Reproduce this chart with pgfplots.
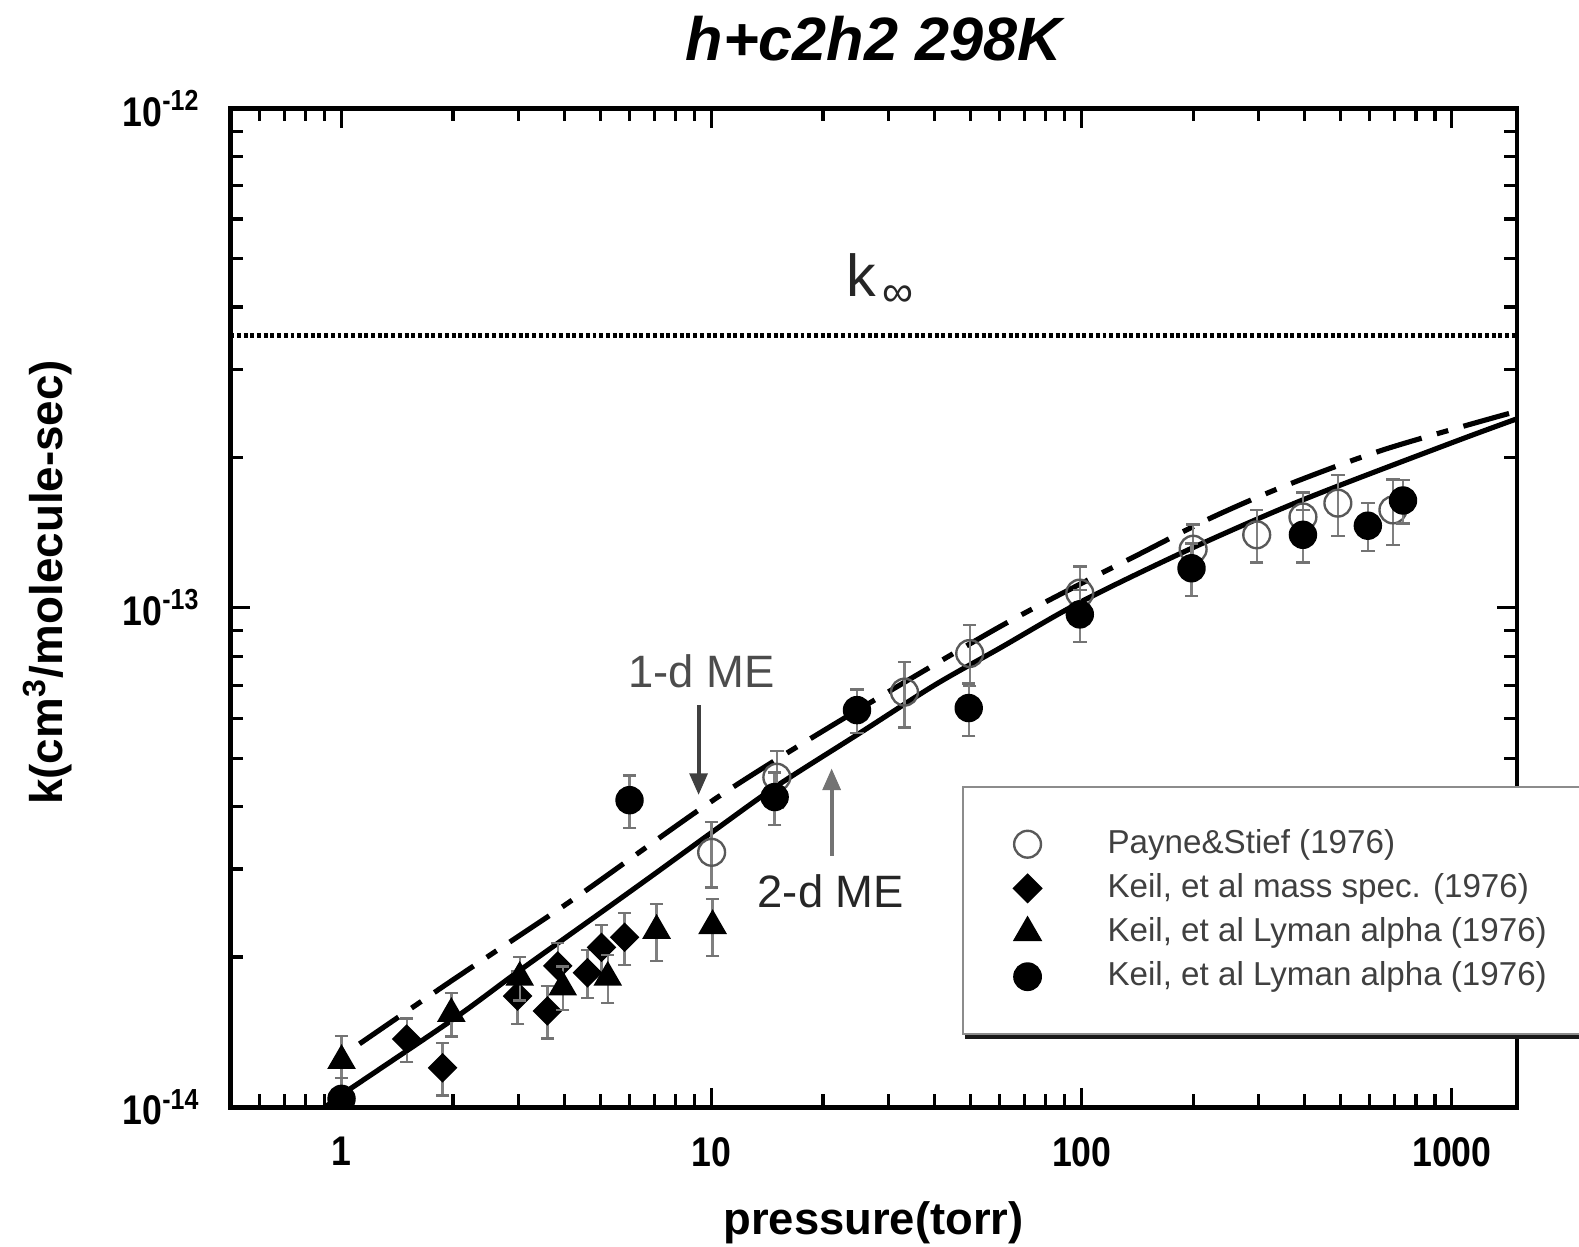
\documentclass[border=0pt]{standalone}
\usepackage{pgfplots}
\pgfplotsset{compat=1.18}
\usepackage{pgfplotstable}
\usepackage{fontspec}
\setmainfont{Liberation Sans}
\newfontfamily\narrowfont[FakeStretch=0.86]{Liberation Sans}
\usetikzlibrary{arrows.meta,shadows}

% Payne & Stief (open circles)
\pgfplotstableread{
x      y        e
10     3.24e-14 0.15
15     4.58e-14 0.13
33.2   6.78e-14 0.15
49.8   8.10e-14 0.14
98.8   1.07e-13 0.13
200    1.31e-13 0.12
297    1.40e-13 0.12
396    1.52e-13 0.12
492    1.62e-13 0.14
693    1.57e-13 0.15
}\payne

% Keil mass spec (diamonds)
\pgfplotstableread{
x      y        e
1.50   1.37e-14 0.10
1.875  1.20e-14 0.12
2.99   1.67e-14 0.12
3.60   1.56e-14 0.12
3.84   1.92e-14 0.11
4.62   1.86e-14 0.11
5.04   2.09e-14 0.11
5.82   2.19e-14 0.12
}\massspec

% Keil Lyman alpha (triangles)
\pgfplotstableread{
x      y        e
1.00   1.24e-14 0.12
1.98   1.54e-14 0.10
3.03   1.82e-14 0.10
3.96   1.74e-14 0.10
5.24   1.82e-14 0.11
7.10   2.26e-14 0.13
10.06  2.31e-14 0.13
}\lymantri

% Keil Lyman alpha (filled circles)
\pgfplotstableread{
x      y        e
1.00   1.04e-14 0.10
6.0    4.12e-14 0.12
14.8   4.18e-14 0.12
24.7   6.24e-14 0.10
49.5   6.30e-14 0.12
98.8   9.70e-14 0.12
198    1.20e-13 0.12
396    1.40e-13 0.12
593    1.46e-13 0.11
738    1.64e-13 0.10
}\lymancirc

\begin{document}
\begin{tikzpicture}
\begin{axis}[
    name=ax,
    scale only axis,
    width=326pt, height=253.1pt,
    xmode=log, ymode=log,
    xmin=0.5, xmax=1500,
    ymin=1e-14, ymax=1e-12,
    xtick={1,10,100,1000},
    xticklabels={1,10,100,1000},
    ytick={1e-14,1e-13,1e-12},
    yticklabels={10\textsuperscript{-14},10\textsuperscript{-13},10\textsuperscript{-12}},
    minor xtick={0.6,0.7,0.8,0.9,2,3,4,5,6,7,8,9,20,30,40,50,60,70,80,90,200,300,400,500,600,700,800,900},
    minor ytick={2e-14,3e-14,4e-14,5e-14,6e-14,7e-14,8e-14,9e-14,2e-13,3e-13,4e-13,5e-13,6e-13,7e-13,8e-13,9e-13},
    tick align=inside,
    major tick length=5pt,
    minor tick length=3.3pt,
    every tick/.append style={black, line width=0.8pt},
    axis line style={line width=1.2pt},
    xticklabel style={font=\narrowfont\bfseries\fontsize{10.5}{12}\selectfont, yshift=-4pt},
    yticklabel style={font=\narrowfont\bfseries\fontsize{10.5}{12}\selectfont, xshift=-4pt},
    title={h+c2h2 298K},
    every axis title shift=0pt,
    title style={font=\bfseries\itshape\fontsize{15.5}{18}\selectfont, at={(axis description cs:0.5,1.048)}, anchor=base},
    xlabel={pressure(torr)},
    xlabel style={font=\bfseries\fontsize{11.5}{13}\selectfont, at={(axis description cs:0.5,-0.127)}, anchor=base},
    ylabel={k(cm\textsuperscript{3}/molecule-sec)},
    ylabel style={font=\bfseries\fontsize{11.6}{13}\selectfont, at={(axis description cs:-0.142,0.5255)}, anchor=center},
    clip marker paths=true,
    legend cell align=left,
    legend style={at={(rel axis cs:0.569,0.322)}, anchor=north west,
        draw=black!45, line width=0.5pt, fill=white,
        general shadow={fill=black!90, shadow xshift=0.4pt, shadow yshift=-1.3pt},
        font=\fontsize{8.4}{10}\selectfont, text=black!75,
        inner xsep=12.8pt, inner ysep=9.8pt, row sep=1.6pt, column sep=15.8pt,
        nodes={inner sep=1pt}},
]

% 2-d ME (solid)
\addplot[black, line width=1.3pt, smooth, forget plot] coordinates {
    (0.95,1.03e-14) (1,1.06e-14) (2,1.50e-14) (3,1.87e-14) (5,2.45e-14)
    (7,2.93e-14) (10,3.55e-14) (15,4.40e-14) (25,5.60e-14) (40,7.00e-14)
    (60,8.30e-14) (100,1.03e-13) (200,1.32e-13) (400,1.65e-13)
    (1000,2.14e-13) (1500,2.39e-13)
};
% 1-d ME (dashed)
\addplot[black, line width=1.3pt, smooth, dash pattern=on 12pt off 4pt on 3pt off 4pt, forget plot] coordinates {
    (1.118,1.34e-14) (2,1.80e-14) (4.2,2.60e-14) (10,4.10e-14) (20.8,5.77e-14)
    (57.5,9.00e-14) (100,1.12e-13) (137,1.26e-13) (222,1.51e-13)
    (358,1.76e-13) (651,2.07e-13) (1373,2.43e-13) (1500,2.46e-13)
};
% k infinity
\addplot[black, line width=1.3pt, dash pattern=on 1pt off 0.7pt, forget plot] coordinates {
    (0.5,3.51e-13) (1500,3.51e-13)
};

\addplot[only marks, mark=o, black!65, mark size=3.4pt, mark options={line width=0.6pt},
    error bars/.cd, y dir=both, y explicit relative,
    error bar style={black!50, line width=0.6pt},
    error mark options={black!55, mark size=1.7pt, line width=0.6pt, rotate=90}]
    table[x=x, y=y, y error=e] {\payne};
\addlegendentry{\makebox[140pt][l]{Payne\&Stief (1976)}}

\addplot[only marks, mark=square*, black, mark size=2.45pt, mark options={rotate=45},
    error bars/.cd, y dir=both, y explicit relative,
    error bar style={black!50, line width=0.6pt},
    error mark options={black!55, mark size=1.7pt, line width=0.6pt, rotate=90}]
    table[x=x, y=y, y error=e] {\massspec};
\addlegendentry{Keil, et al mass spec. (1976)}

\addplot[only marks, mark=triangle*, black, mark size=3.8pt,
    error bars/.cd, y dir=both, y explicit relative,
    error bar style={black!50, line width=0.6pt},
    error mark options={black!55, mark size=1.7pt, line width=0.6pt, rotate=90}]
    table[x=x, y=y, y error=e] {\lymantri};
\addlegendentry{Keil, et al Lyman alpha (1976)}

\addplot[only marks, mark=*, black, mark size=3.4pt,
    error bars/.cd, y dir=both, y explicit relative,
    error bar style={black!50, line width=0.6pt},
    error mark options={black!55, mark size=1.7pt, line width=0.6pt, rotate=90}]
    table[x=x, y=y, y error=e] {\lymancirc};
\addlegendentry{Keil, et al Lyman alpha (1976)}

% annotations
\node[anchor=base, text=black!70, font=\fontsize{11.5}{13}\selectfont] at (axis cs:9.4,6.93e-14) {1-d ME};
\draw[-{Triangle[width=4.5pt,length=5.5pt]}, line width=1pt, black!75] (axis cs:9.22,6.38e-14) -- (axis cs:9.22,4.22e-14);
\node[anchor=base, text=black!85, font=\fontsize{11.5}{13}\selectfont] at (axis cs:21,2.51e-14) {2-d ME};
\draw[-{Triangle[width=4.5pt,length=5.5pt]}, line width=1pt, black!55] (axis cs:21.1,3.19e-14) -- (axis cs:21.1,4.77e-14);
\node[anchor=base, text=black!85] at (axis cs:28.5,4.19e-13)
    {{\fontsize{15}{16}\selectfont k}\,\raisebox{-2.5pt}{\fontsize{11}{12}\selectfont ∞}};
\end{axis}
\pgfresetboundingbox
\path[use as bounding box] ([shift={(-58.3pt,-35.2pt)}]ax.south west) rectangle ([shift={(15.7pt,27.4pt)}]ax.north east);
\end{tikzpicture}
\end{document}
